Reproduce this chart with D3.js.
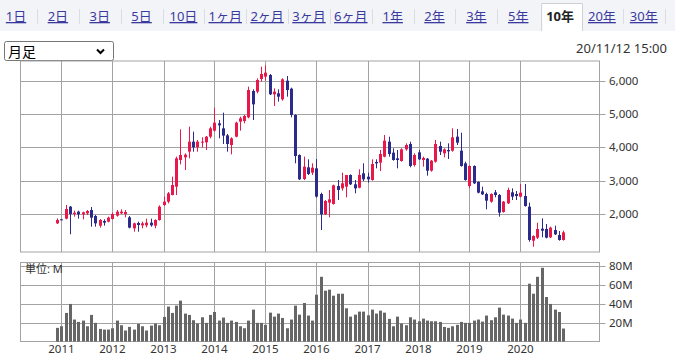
<!DOCTYPE html>
<html>
<head>
<meta charset="utf-8">
<script src="https://cdn.jsdelivr.net/npm/d3@7"></script>
<style>
	body { margin: 0; background: #fff; }
	svg text { font-family: "Noto Sans", "Noto Sans CJK JP", sans-serif; }
</style>
</head>
<body>
<div id="chart"></div>
<script>
// period tabs across the top
var tabLabels = ['1日', '2日', '3日', '5日', '10日', '1ヶ月', '2ヶ月', '3ヶ月', '6ヶ月', '1年', '2年', '3年', '5年', '10年', '20年', '30年'];
var activeTab = '10年';
var stampText = '20/11/12 15:00';
var selectText = '月足';

// monthly candles, first one is Dec 2010
var firstMonth = new Date(2010, 11, 1);
var opens = [
	1720, 1840, 1860, 2220, 2000, 2070, 1990, 2020, 2120, 1940, 1650, 1790,
	1770, 1850, 1950, 2020, 2000, 1900, 1570, 1730, 1660, 1660, 1740, 1650,
	1820, 2270, 2370, 2570, 2820, 3620, 3700, 3870, 4170, 4000, 4150, 4150,
	4320, 4500, 4720, 4570, 4360, 4070, 4320, 4770, 4790, 4900, 5690, 5670,
	6050, 6120, 6170, 5590, 5620, 5440, 6000, 5760, 4970, 3770, 3050, 3400,
	3240, 3370, 2600, 1990, 2340, 2300, 2840, 2770, 2820, 3170, 2890, 2790,
	3220, 3120, 3020, 3560, 3540, 3720, 4170, 3840, 3670, 3590, 3940, 4100,
	3470, 3850, 3620, 3660, 3300, 3570, 4040, 3820, 3920, 3900, 4320, 3900,
	3520, 2840, 3440, 2960, 2680, 2600, 2370, 2650, 2570, 2060, 2320, 2650,
	2600, 2520, 2540, 2220, 1200, 1290, 1560, 1550, 1300, 1520, 1370, 1220
];
var highs = [
	1870, 1850, 2270, 2240, 2100, 2100, 2070, 2120, 2210, 1970, 1850, 1840,
	1920, 2040, 2120, 2140, 2120, 1940, 1740, 1770, 1770, 1860, 1860, 1840,
	2260, 2520, 2660, 3120, 3720, 4540, 3820, 4620, 4470, 4220, 4300, 4340,
	4620, 5190, 4820, 5040, 4400, 4300, 4770, 4920, 4970, 5820, 5740, 6070,
	6420, 6460, 6200, 5770, 5740, 6070, 6140, 5790, 4990, 3790, 3720, 3640,
	3520, 3650, 2640, 2420, 2720, 2880, 3020, 3240, 3170, 3190, 3020, 3340,
	3520, 3240, 3640, 3640, 3920, 4370, 4320, 3970, 3920, 3970, 4120, 4170,
	3820, 3920, 3720, 3680, 3620, 4220, 4170, 3970, 4120, 4570, 4550, 4440,
	3570, 3460, 3460, 2980, 2820, 2640, 2620, 2720, 2600, 2390, 2790, 2770,
	2690, 2900, 2900, 2340, 1360, 1740, 1870, 1700, 1620, 1650, 1490, 1500
];
var lows = [
	1700, 1820, 1840, 1390, 1920, 1860, 1840, 1970, 1620, 1620, 1590, 1650,
	1750, 1840, 1920, 2000, 1900, 1570, 1470, 1470, 1570, 1600, 1620, 1570,
	1800, 2240, 2320, 2560, 2570, 3490, 3320, 3670, 3870, 3870, 4000, 3920,
	4270, 4470, 4270, 4100, 3870, 3790, 4300, 4500, 4720, 4870, 4820, 5620,
	5970, 6000, 5570, 5240, 5370, 5400, 5520, 4900, 3520, 3020, 3020, 3170,
	3170, 2490, 1520, 1970, 1900, 2280, 2420, 2700, 2500, 2870, 2620, 2770,
	2990, 2940, 3000, 3370, 3290, 3700, 3720, 3600, 3370, 3570, 3900, 3400,
	3420, 3620, 3420, 3150, 3270, 3540, 3770, 3700, 3650, 3870, 4070, 3420,
	3000, 2770, 2900, 2620, 2570, 2140, 2340, 2500, 1920, 2040, 2300, 2420,
	2420, 2500, 2220, 1170, 1020, 1250, 1300, 1270, 1280, 1370, 1200, 1200
];
var closes = [
	1820, 1830, 2150, 2000, 2040, 1990, 2050, 2090, 1890, 1720, 1820, 1740,
	1890, 2000, 2070, 2070, 2060, 1590, 1720, 1670, 1720, 1740, 1660, 1820,
	2220, 2370, 2620, 2870, 3670, 3770, 3780, 4170, 4000, 4170, 4170, 4320,
	4570, 4740, 4660, 4350, 4100, 4270, 4740, 4870, 4940, 5720, 5290, 6020,
	6200, 6240, 5590, 5670, 5520, 6040, 5720, 4970, 3740, 3040, 3420, 3200,
	3390, 2520, 1990, 2390, 2440, 2860, 2720, 2920, 3170, 2890, 2770, 3170,
	3040, 3040, 3500, 3520, 3800, 4200, 3800, 3620, 3620, 3940, 4070, 3440,
	3770, 3640, 3680, 3300, 3600, 4100, 3870, 3940, 3880, 4300, 4140, 3440,
	3020, 3440, 2920, 2640, 2590, 2400, 2600, 2570, 2040, 2370, 2720, 2520,
	2540, 2640, 2240, 1220, 1340, 1550, 1500, 1290, 1590, 1390, 1220, 1450
];
// volume in millions of shares
var volumes = [
	14.4, 16.1, 30.2, 39.7, 23.2, 20.7, 22.1, 16.1, 28.1, 19.7, 13.3, 12.6,
	12.6, 14.0, 22.1, 17.2, 11.6, 15.4, 12.6, 18.6, 16.1, 11.6, 16.8, 19.0,
	17.2, 26.0, 36.9, 30.2, 37.9, 43.2, 29.5, 28.1, 22.5, 19.0, 25.6, 19.7,
	28.1, 31.2, 22.1, 25.3, 19.7, 22.1, 20.7, 16.1, 14.0, 22.1, 33.7, 19.7,
	19.7, 17.6, 30.5, 26.3, 29.5, 24.9, 14.0, 23.2, 37.9, 28.4, 40.7, 27.4,
	22.1, 49.5, 68.4, 53.7, 54.8, 48.4, 50.5, 50.5, 35.1, 26.3, 28.4, 31.6,
	31.6, 27.7, 33.7, 29.5, 32.6, 30.5, 23.9, 16.1, 26.3, 19.0, 17.2, 25.6,
	23.2, 21.4, 24.2, 22.1, 21.4, 21.4, 20.7, 15.4, 14.4, 16.1, 17.6, 20.7,
	19.7, 19.7, 22.1, 23.2, 21.1, 27.4, 22.5, 25.6, 35.8, 28.4, 27.4, 24.2,
	19.7, 23.2, 19.7, 61.1, 50.5, 68.4, 77.9, 47.0, 39.7, 33.7, 31.2, 13.7
];
var priceTicks = [2000, 3000, 4000, 5000, 6000];
var volumeTicks = [20, 40, 60, 80];

var upColor = '#e8194a';
var downColor = '#2b2b8e';
var gridColor = '#a3a3a3';

var candles = opens.map(function(o, i) {
	return {
		date: d3.timeMonth.offset(firstMonth, i),
		open: o, high: highs[i], low: lows[i], close: closes[i], volume: volumes[i]
	};
});
var lastDate = candles[candles.length - 1].date;

var W = 675, H = 355;
var main = {left: 20.5, right: 599.5, top: 61, bottom: 252};
var vol = {top: 262.5, bottom: 341.5};

var svg = d3.select('#chart').append('svg').attr('width', W).attr('height', H);

// ---- tab bar ----
svg.append('rect').attr('x', 0).attr('y', 0).attr('width', W).attr('height', 31).attr('fill', '#f3f4f8');

var tabX = d3.scaleBand().domain(tabLabels).range([-4.9, 664.7]);
var activeIdx = tabLabels.indexOf(activeTab);

svg.append('path')
	.attr('d', 'M' + (tabX(activeTab) + 2.5) + ',31V3.5H' + (tabX(activeTab) + tabX.bandwidth() + 1.5) + 'V31')
	.attr('fill', '#fff')
	.attr('stroke', '#cfd0d6');

svg.selectAll('.tab').data(tabLabels)
	.enter()
	.append('text')
	.attr('class', 'tab')
	.attr('x', d => tabX(d) + tabX.bandwidth() / 2)
	.attr('y', 21)
	.attr('text-anchor', 'middle')
	.style('font-size', '13px')
	.style('font-weight', d => d == activeTab ? 'bold' : 'normal')
	.style('text-decoration', d => d == activeTab ? 'none' : 'underline')
	.attr('fill', d => d == activeTab ? '#222' : '#3a3a9e')
	.text(d => d);

// separators, none next to the active tab
svg.selectAll('.tabsep').data(tabLabels.filter(function(d, i) { return i != activeIdx && i != activeIdx - 1; }))
	.enter()
	.append('line')
	.attr('x1', d => Math.round(tabX(d) + tabX.bandwidth()) + 0.5)
	.attr('x2', d => Math.round(tabX(d) + tabX.bandwidth()) + 0.5)
	.attr('y1', 9)
	.attr('y2', 24)
	.attr('stroke', '#dcdde2');

// ---- select box and timestamp ----
svg.append('rect').attr('x', 4.5).attr('y', 41.5).attr('width', 109).attr('height', 19).attr('rx', 2)
	.attr('fill', '#fff').attr('stroke', '#767676');
svg.append('text').attr('x', 8).attr('y', 56.5).style('font-size', '14px').attr('fill', '#000').text(selectText);
svg.append('path').attr('d', 'M97,49.5l3.5,3.5l3.5,-3.5').attr('fill', 'none').attr('stroke', '#000').attr('stroke-width', 2);

svg.append('text').attr('x', 667).attr('y', 53).attr('text-anchor', 'end')
	.style('font-size', '13px').attr('fill', '#333').text(stampText);

// ---- scales ----
var xScale = d3.scaleTime().domain([new Date(2010, 2, 14), new Date(2021, 6, 20)]).range([main.left, main.right]);
var yScale = d3.scaleLinear().domain([860, 6590]).range([main.bottom, main.top]);
var vScale = d3.scaleLinear().domain([0, 83.5]).range([vol.bottom, vol.top]);
var years = xScale.ticks(d3.timeYear.every(1)).filter(d => xScale(d) > main.left + 5 && d <= lastDate);

var crisp = v => Math.round(v) + 0.5;

function panel(top, bottom, ticks, scale, fmt) {
	var g = svg.append('g');
	g.append('rect').attr('x', main.left).attr('y', top).attr('width', main.right - main.left).attr('height', bottom - top)
		.attr('fill', '#fff');
	g.selectAll('.vg').data(years).enter().append('line')
		.attr('x1', d => crisp(xScale(d))).attr('x2', d => crisp(xScale(d)))
		.attr('y1', top).attr('y2', bottom)
		.attr('stroke', gridColor);
	g.selectAll('.hg').data(ticks).enter().append('line')
		.attr('x1', main.left).attr('x2', main.right + 6)
		.attr('y1', d => crisp(scale(d))).attr('y2', d => crisp(scale(d)))
		.attr('stroke', gridColor);
	g.append('rect').attr('x', main.left).attr('y', top).attr('width', main.right - main.left).attr('height', bottom - top)
		.attr('fill', 'none').attr('stroke', gridColor);
	g.selectAll('.lab').data(ticks).enter().append('text')
		.attr('x', 609).attr('y', d => scale(d) + 4)
		.style('font-size', '11.5px').attr('fill', '#333')
		.text(fmt);
	return g;
}

panel(main.top, main.bottom, priceTicks, yScale, d3.format(','));
panel(vol.top, vol.bottom, volumeTicks, vScale, d => d + 'M');

// ---- candles ----
var cg = svg.append('g');
cg.selectAll('.wick').data(candles).enter().append('line')
	.attr('x1', d => crisp(xScale(d.date))).attr('x2', d => crisp(xScale(d.date)))
	.attr('y1', d => yScale(d.high)).attr('y2', d => yScale(d.low))
	.attr('stroke', d => d.close >= d.open ? upColor : downColor);
cg.selectAll('.body').data(candles).enter().append('rect')
	.attr('x', d => Math.round(xScale(d.date)) - 1)
	.attr('width', 3)
	.attr('y', d => yScale(Math.max(d.open, d.close)))
	.attr('height', d => Math.max(1, Math.abs(yScale(d.open) - yScale(d.close))))
	.attr('fill', d => d.close >= d.open ? upColor : downColor);

// ---- volume ----
svg.append('g').selectAll('.vbar').data(candles).enter().append('rect')
	.attr('x', d => Math.round(xScale(d.date)) - 1)
	.attr('width', 3)
	.attr('y', d => vScale(d.volume))
	.attr('height', d => vol.bottom - vScale(d.volume))
	.attr('fill', '#666');

svg.append('text').attr('x', 25).attr('y', 273).style('font-size', '11px').attr('fill', '#333').text('単位: M');

// year labels
svg.selectAll('.yr').data(years).enter().append('text')
	.attr('x', d => xScale(d)).attr('y', 353)
	.attr('text-anchor', 'middle')
	.style('font-size', '11.5px').attr('fill', '#333')
	.text(d3.timeFormat('%Y'));
</script>
</body>
</html>
